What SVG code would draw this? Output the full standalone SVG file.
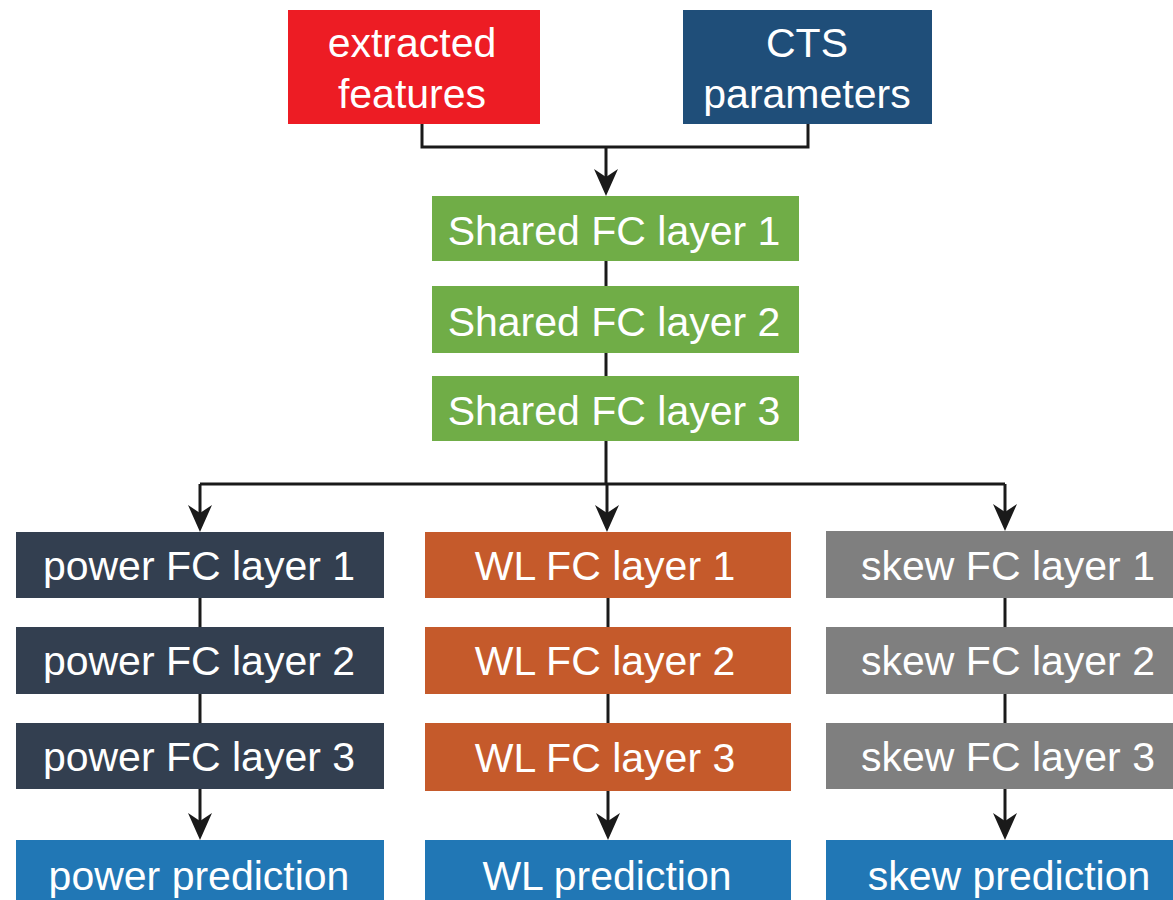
<svg xmlns="http://www.w3.org/2000/svg" width="1173" height="900" viewBox="0 0 1173 900">
  <style>
    .lbl { font-family: "Liberation Sans", Arial, sans-serif; font-size: 41px; fill: #ffffff; text-anchor: middle; }
    .wire { fill: none; stroke: #1a1a1a; stroke-width: 3; }
    .red { fill: #ED1C24; }
    .cts { fill: #1F4E79; }
    .shared { fill: #70AD47; }
    .power { fill: #333F50; }
    .wl { fill: #C55A2B; }
    .skew { fill: #7F7F7F; }
    .pred { fill: #2177B5; }
  </style>
  <defs>
    <marker id="arrow" markerUnits="userSpaceOnUse" markerWidth="28" markerHeight="26" viewBox="0 -13 28 26" refX="13" refY="0" orient="auto">
      <path d="M27,0 L0,-12 L8,0 L0,12 Z" fill="#1a1a1a"/>
    </marker>
  </defs>

  <rect width="1173" height="900" fill="#ffffff"/>

  <!-- connectors -->
  <g id="connectors">
    <path class="wire" d="M422,124 V147 H808 V124"/>
    <path class="wire" d="M606,147 V182" marker-end="url(#arrow)"/>
    <path class="wire" d="M606,261 V286"/>
    <path class="wire" d="M606,353 V376"/>
    <path class="wire" d="M606,441 V484"/>
    <path class="wire" d="M200,484 H1005"/>
    <path class="wire" d="M200,484 V518" marker-end="url(#arrow)"/>
    <path class="wire" d="M607,484 V518" marker-end="url(#arrow)"/>
    <path class="wire" d="M1005,484 V517" marker-end="url(#arrow)"/>
    <!-- power branch -->
    <path class="wire" d="M200,598 V627"/>
    <path class="wire" d="M200,694 V723"/>
    <path class="wire" d="M200,789 V826" marker-end="url(#arrow)"/>
    <!-- WL branch -->
    <path class="wire" d="M608,598 V627"/>
    <path class="wire" d="M608,694 V723"/>
    <path class="wire" d="M608,791 V826" marker-end="url(#arrow)"/>
    <!-- skew branch -->
    <path class="wire" d="M1005,598 V627"/>
    <path class="wire" d="M1005,694 V723"/>
    <path class="wire" d="M1005,789 V826" marker-end="url(#arrow)"/>
  </g>

  <!-- inputs -->
  <g id="extracted-features">
    <rect class="red" x="288" y="10" width="252" height="114"/>
    <text class="lbl" x="412" y="57">extracted</text>
    <text class="lbl" x="412" y="108">features</text>
  </g>
  <g id="cts-parameters">
    <rect class="cts" x="683" y="10" width="249" height="114"/>
    <text class="lbl" x="807" y="57">CTS</text>
    <text class="lbl" x="807" y="108">parameters</text>
  </g>

  <!-- shared trunk -->
  <g id="shared-fc-1">
    <rect class="shared" x="432" y="196" width="367" height="65"/>
    <text class="lbl" x="614" y="245">Shared FC layer 1</text>
  </g>
  <g id="shared-fc-2">
    <rect class="shared" x="432" y="286" width="367" height="67"/>
    <text class="lbl" x="614" y="336">Shared FC layer 2</text>
  </g>
  <g id="shared-fc-3">
    <rect class="shared" x="432" y="376" width="367" height="65"/>
    <text class="lbl" x="614" y="425">Shared FC layer 3</text>
  </g>

  <!-- power head -->
  <g id="power-fc-1">
    <rect class="power" x="16" y="532" width="368" height="66"/>
    <text class="lbl" x="199" y="580">power FC layer 1</text>
  </g>
  <g id="power-fc-2">
    <rect class="power" x="16" y="627" width="368" height="67"/>
    <text class="lbl" x="199" y="675">power FC layer 2</text>
  </g>
  <g id="power-fc-3">
    <rect class="power" x="16" y="723" width="368" height="66"/>
    <text class="lbl" x="199" y="771">power FC layer 3</text>
  </g>
  <g id="power-prediction">
    <rect class="pred" x="16" y="840" width="368" height="70"/>
    <text class="lbl" x="199" y="890">power prediction</text>
  </g>

  <!-- WL head -->
  <g id="wl-fc-1">
    <rect class="wl" x="425" y="532" width="366" height="66"/>
    <text class="lbl" x="605" y="580">WL FC layer 1</text>
  </g>
  <g id="wl-fc-2">
    <rect class="wl" x="425" y="627" width="366" height="67"/>
    <text class="lbl" x="605" y="675">WL FC layer 2</text>
  </g>
  <g id="wl-fc-3">
    <rect class="wl" x="425" y="723" width="366" height="68"/>
    <text class="lbl" x="605" y="772">WL FC layer 3</text>
  </g>
  <g id="wl-prediction">
    <rect class="pred" x="425" y="840" width="366" height="70"/>
    <text class="lbl" x="607" y="890">WL prediction</text>
  </g>

  <!-- skew head -->
  <g id="skew-fc-1">
    <rect class="skew" x="826" y="531" width="370" height="67"/>
    <text class="lbl" x="1008" y="580">skew FC layer 1</text>
  </g>
  <g id="skew-fc-2">
    <rect class="skew" x="826" y="627" width="370" height="67"/>
    <text class="lbl" x="1008" y="675">skew FC layer 2</text>
  </g>
  <g id="skew-fc-3">
    <rect class="skew" x="826" y="723" width="370" height="66"/>
    <text class="lbl" x="1008" y="771">skew FC layer 3</text>
  </g>
  <g id="skew-prediction">
    <rect class="pred" x="826" y="840" width="370" height="70"/>
    <text class="lbl" x="1009" y="890">skew prediction</text>
  </g>
</svg>
